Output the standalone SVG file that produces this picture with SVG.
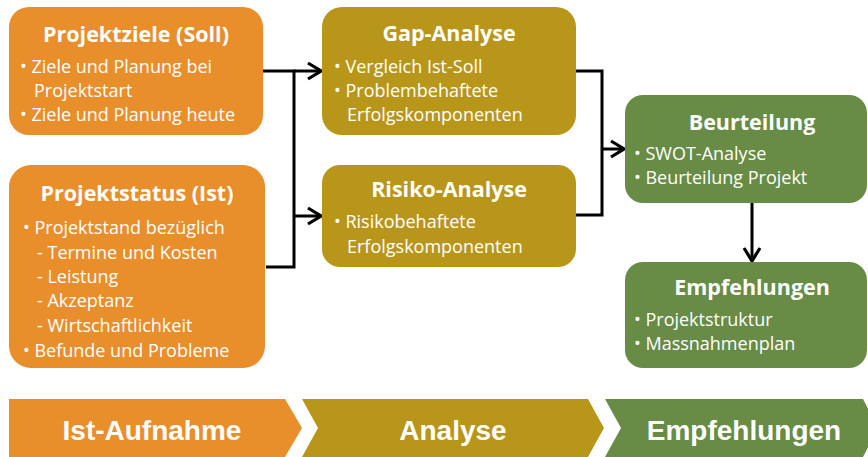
<svg xmlns="http://www.w3.org/2000/svg" width="868" height="457" viewBox="0 0 868 457">
<style>
.o{fill:#E88E2B}.g{fill:#B8961A}.gr{fill:#688B45}
.t{font-family:"Open Sans","Liberation Sans",sans-serif;font-weight:bold;font-size:21.5px;fill:#fff;text-anchor:middle}
.b{font-family:"Open Sans","Liberation Sans",sans-serif;font-size:18px;fill:#fff}
.c{fill:none;stroke:#000;stroke-width:3}
.p{font-family:"Liberation Sans",sans-serif;font-weight:bold;font-size:28px;fill:#fff;text-anchor:middle}
</style>
<defs>
<marker id="ah" markerUnits="userSpaceOnUse" markerWidth="18" markerHeight="20" viewBox="0 0 18 20" refX="16" refY="10" orient="auto">
<path d="M3,2 L16,10 L3,18" fill="none" stroke="#000" stroke-width="3.2"/>
</marker>
</defs>
<g id="connectors" class="c">
<path d="M263,71 H294 V267 H266"/>
<path d="M294,71 H321" marker-end="url(#ah)"/>
<path d="M294,216 H321" marker-end="url(#ah)"/>
<path d="M576,71 H602 V215 H576"/>
<path d="M602,149 H624" marker-end="url(#ah)"/>
<path d="M752,203 V261" marker-end="url(#ah)"/>
</g>
<g id="projektziele">
<rect class="o" x="9" y="7" width="254" height="128" rx="20"/>
<text class="t" x="136" y="42">Projektziele (Soll)</text>
<text class="b" x="20" y="73">• Ziele und Planung bei</text>
<text class="b" x="34" y="97">Projektstart</text>
<text class="b" x="20" y="121">• Ziele und Planung heute</text>
</g>
<g id="projektstatus">
<rect class="o" x="9" y="165" width="256" height="203" rx="22"/>
<text class="t" x="137" y="201">Projektstatus (Ist)</text>
<text class="b" x="23" y="234">• Projektstand bezüglich</text>
<text class="b" x="37" y="259">- Termine und Kosten</text>
<text class="b" x="37" y="283">- Leistung</text>
<text class="b" x="37" y="307">- Akzeptanz</text>
<text class="b" x="37" y="332">- Wirtschaftlichkeit</text>
<text class="b" x="23" y="357">• Befunde und Probleme</text>
</g>
<g id="gap">
<rect class="g" x="322" y="7" width="254" height="128" rx="20"/>
<text class="t" x="449" y="41">Gap-Analyse</text>
<text class="b" x="334" y="73">• Vergleich Ist-Soll</text>
<text class="b" x="334" y="97">• Problembehaftete</text>
<text class="b" x="347" y="121">Erfolgskomponenten</text>
</g>
<g id="risiko">
<rect class="g" x="322" y="165" width="254" height="102" rx="18"/>
<text class="t" x="449" y="197">Risiko-Analyse</text>
<text class="b" x="334" y="228">• Risikobehaftete</text>
<text class="b" x="347" y="253">Erfolgskomponenten</text>
</g>
<g id="beurteilung">
<rect class="gr" x="625" y="95" width="242" height="108" rx="18"/>
<text class="t" x="752" y="130">Beurteilung</text>
<text class="b" x="634" y="160">• SWOT-Analyse</text>
<text class="b" x="634" y="184">• Beurteilung Projekt</text>
</g>
<g id="empfehlungen">
<rect class="gr" x="625" y="262" width="242" height="106" rx="18"/>
<text class="t" x="752" y="295">Empfehlungen</text>
<text class="b" x="634" y="326">• Projektstruktur</text>
<text class="b" x="634" y="350">• Massnahmenplan</text>
</g>
<g id="phase-ist">
<path class="o" d="M9,399 H285 L302,428 L285,457 H9 Z"/>
<text class="p" x="152" y="440">Ist-Aufnahme</text>
</g>
<g id="phase-analyse">
<path class="g" d="M302,399 H588 L604,428 L588,457 H302 L318,428 Z"/>
<text class="p" x="453" y="440">Analyse</text>
</g>
<g id="phase-empfehlungen">
<path class="gr" d="M605,399 H863 L878,428 L863,457 H605 L621,428 Z"/>
<text class="p" x="744" y="440">Empfehlungen</text>
</g>
</svg>
